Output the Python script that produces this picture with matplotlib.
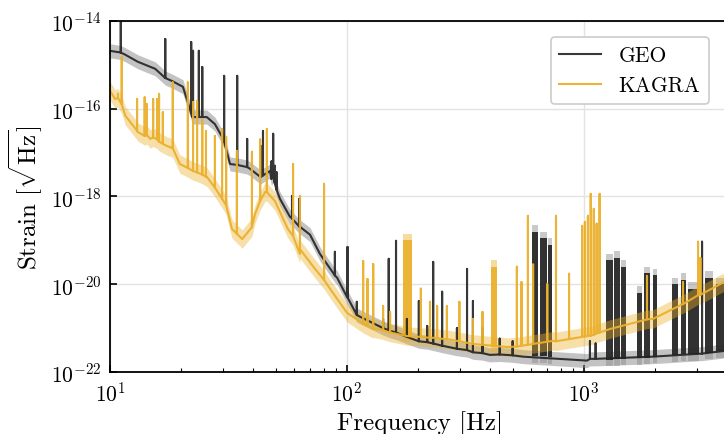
import numpy as np
import matplotlib
matplotlib.use("Agg")
import matplotlib.pyplot as plt
from matplotlib.ticker import NullLocator

# ---- data (frequency in Hz, log10 strain) ----
geo_freq = [10, 11.6, 13.1, 15.5, 18.3, 20.3, 22.2, 25.6, 27.7, 29.7, 32.1, 39.0,
            43.0, 47.3, 52.1, 57.4, 63.3, 69.8, 76.9, 90.8, 100, 113.5, 151.7,
            209, 291, 401, 553, 1031, 1954, 3900]
geo_log = [-14.68, -14.77, -14.93, -15.09, -15.37, -15.50, -16.19, -16.19, -16.35,
           -16.64, -17.26, -17.37, -17.55, -17.42, -18.05, -18.46, -18.69, -18.87,
           -19.31, -19.85, -20.29, -20.74, -21.06, -21.31, -21.47, -21.61, -21.65,
           -21.74, -21.65, -21.52]

geo_spike_freq = [11.1, 17.1, 22.0, 22.4, 23.7, 24.5, 30.3, 34.4, 37.9, 43.4, 44.2,
                  48.0, 48.8, 49.6, 50.5, 58.6, 63.0, 88.9, 100.5, 110, 142, 150, 161,
                  179, 201, 218, 231, 252, 291, 321, 340, 373, 441, 500, 1060, 1120,
                  3150]
geo_spike_base = [-14.72, -15.30, -16.10, -16.19, -16.19, -16.19, -16.75, -17.28,
                  -17.33, -17.55, -17.52, -17.60, -17.50, -17.70, -17.85, -18.50,
                  -18.69, -19.80, -20.30, -20.70, -21.00, -21.05, -21.10, -21.20,
                  -21.30, -21.32, -21.35, -21.40, -21.47, -21.50, -21.55, -21.57,
                  -21.60, -21.62, -21.70, -21.70, -21.58]
geo_spike_top = [-14.02, -14.41, -14.48, -14.68, -14.68, -15.05, -15.25, -15.25,
                 -16.69, -16.85, -16.51, -17.20, -16.57, -17.30, -17.45, -17.99,
                 -18.05, -19.26, -19.15, -20.40, -20.79, -19.42, -19.01, -20.79,
                 -20.38, -20.95, -19.49, -20.17, -21.00, -19.65, -20.38, -21.00,
                 -21.24, -21.30, -21.30, -21.35, -19.03]

# dense clusters of lines that render as solid blocks
geo_block_lo = [606, 650, 705, 1240, 1340, 1430, 1680, 1800, 1950, 2350, 2560,
                2750, 3250, 3600]
geo_block_hi = [640, 700, 730, 1320, 1420, 1510, 1760, 1900, 2030, 2500, 2700,
                3050, 3500, 3900]
geo_block_base = [-21.64, -21.64, -21.66, -21.72, -21.71, -21.70, -21.68, -21.67,
                  -21.65, -21.62, -21.60, -21.59, -21.56, -21.53]
geo_block_top = [-18.80, -18.95, -19.10, -19.45, -19.40, -19.60, -20.20, -19.75,
                 -19.80, -20.00, -19.90, -20.10, -19.85, -20.00]

kagra_freq = [10, 10.5, 11.6, 13.1, 14.8, 17.4, 19.7, 22.4, 25.6, 29.7, 32.7, 36.1,
              40.9, 45.1, 49.6, 56.3, 63.3, 73.3, 84.7, 100, 128.8, 179, 247, 340,
              473, 609, 740, 1031, 1288, 1954, 2723, 3900]
kagra_log = [-15.59, -15.78, -16.16, -16.53, -16.69, -16.85, -17.26, -17.42, -17.55,
             -18.05, -18.74, -18.97, -18.40, -17.90, -18.10, -18.74, -19.31, -19.65,
             -20.10, -20.65, -21.02, -21.18, -21.24, -21.36, -21.43, -21.36, -21.29,
             -21.18, -21.02, -20.79, -20.40, -19.95]

kagra_spike_freq = [10.8, 11.2, 13.0, 14.0, 14.3, 15.2, 15.8, 16.1, 16.7, 18.4, 21.3,
                    22.4, 23.3, 24.5, 25.4, 27.7, 29.7, 30.9, 34.3, 39.7, 43.0, 45.9,
                    59.2, 63.3, 80, 117, 122, 129, 142, 152, 205, 224, 240, 264, 298,
                    340, 373, 521, 545, 580, 610, 700, 762, 865, 982, 1009, 1039, 1068,
                    1100, 1131, 1164, 1845, 2618, 3030, 3100]
kagra_spike_base = [-15.75, -15.90, -16.50, -16.62, -16.60, -16.65, -16.70, -16.75,
                    -16.80, -16.90, -17.35, -17.42, -17.45, -17.50, -17.55, -17.80,
                    -18.05, -18.20, -18.85, -18.70, -18.10, -17.90, -18.90, -19.20,
                    -19.90, -20.90, -20.95, -21.00, -21.05, -21.10, -21.20, -21.22,
                    -21.22, -21.25, -21.30, -21.36, -21.38, -21.42, -21.40, -21.38,
                    -21.36, -21.31, -21.30, -21.25, -21.20, -21.19, -21.18, -21.17,
                    -21.15, -21.12, -21.10, -20.80, -20.45, -20.25, -20.24]
kagra_spike_top = [-15.66, -14.82, -15.78, -15.74, -15.89, -15.78, -15.78, -15.66,
                   -16.08, -15.40, -15.40, -15.85, -15.82, -16.25, -16.51, -16.62,
                   -16.46, -16.64, -16.96, -16.98, -16.70, -16.46, -17.26, -17.99,
                   -17.71, -19.47, -19.88, -19.54, -20.50, -20.63, -20.10, -20.40,
                   -20.50, -20.50, -20.40, -20.79, -20.63, -19.60, -19.95, -18.44,
                   -19.55, -20.00, -18.44, -19.76, -18.67, -18.58, -18.44, -17.94,
                   -18.28, -18.62, -17.94, -19.81, -19.95, -19.03, -19.40]

kagra_block_lo = [172, 405]
kagra_block_hi = [188, 430]
kagra_block_base = [-21.16, -21.40]
kagra_block_top = [-19.00, -19.60]


def build(freq, logv, s_f, s_base, s_top):
    # merge smooth floor and narrow lines into one trace
    pts = [(f, 0, v) for f, v in zip(freq, logv)]
    for f, lo, hi in zip(s_f, s_base, s_top):
        pts += [(f, 0, lo), (f, 1, hi), (f, 2, lo)]
    pts.sort(key=lambda p: (p[0], p[1]))
    f = np.array([p[0] for p in pts])
    v = np.array([p[2] for p in pts])
    return f, v


def draw_blocks(ax, lo, hi, base, top, col, band_col, pad):
    for a, b, y0, y1 in zip(lo, hi, base, top):
        ax.fill_between([a, b], 10 ** (y0 - pad), 10 ** (y1 + pad),
                        color=band_col, alpha=0.45, lw=0)
        ax.fill_between([a, b], 10 ** y0, 10 ** y1, color=col, alpha=0.9, lw=0)


geo_f, geo_v = build(geo_freq, geo_log, geo_spike_freq, geo_spike_base, geo_spike_top)
kag_f, kag_v = build(kagra_freq, kagra_log, kagra_spike_freq, kagra_spike_base,
                     kagra_spike_top)

plt.rcParams['font.family'] = 'serif'
plt.rcParams['font.serif'] = ['cmr10']
plt.rcParams['mathtext.fontset'] = 'cm'
plt.rcParams['axes.formatter.use_mathtext'] = True
plt.rcParams['axes.unicode_minus'] = False

fig = plt.figure(figsize=(7.24, 4.35), dpi=100)
ax = fig.add_axes([0.152, 0.1425, 0.855, 0.807])

geo_col = '#222222'
kag_col = '#ebb02c'

# spread bands + median traces
ax.fill_between(geo_f, 10 ** (geo_v - 0.16), 10 ** (geo_v + 0.16),
                color='#888888', alpha=0.5, lw=0)
draw_blocks(ax, geo_block_lo, geo_block_hi, geo_block_base, geo_block_top,
            geo_col, '#888888', 0.15)
ax.plot(geo_f, 10 ** geo_v, color=geo_col, lw=1.5, alpha=0.9, label='GEO')

ax.fill_between(kag_f, 10 ** (kag_v - 0.21), 10 ** (kag_v + 0.21),
                color=kag_col, alpha=0.4, lw=0)
draw_blocks(ax, kagra_block_lo, kagra_block_hi, kagra_block_base, kagra_block_top,
            kag_col, kag_col, 0.15)
ax.plot(kag_f, 10 ** kag_v, color=kag_col, lw=1.5, alpha=0.95, label='KAGRA')

ax.set_xscale('log')
ax.set_yscale('log')
ax.set_xlim(10, 4096)
ax.set_ylim(1e-22, 1e-14)
ax.set_yticks([1e-22, 1e-20, 1e-18, 1e-16, 1e-14])
ax.yaxis.set_minor_locator(NullLocator())

ax.tick_params(which='both', direction='in', labelsize=15.5, pad=6)
ax.tick_params(which='major', length=5, width=1.2)
ax.tick_params(which='minor', length=3, width=0.8)
for s in ax.spines.values():
    s.set_linewidth(1.3)

ax.grid(True, which='major', color='#e3e3e3', lw=1)
ax.set_axisbelow(True)

ax.set_xlabel('Frequency [Hz]', fontsize=18, labelpad=4)
ax.set_ylabel(r'Strain [$\sqrt{\mathrm{Hz}}$]', fontsize=18, labelpad=4)

leg = ax.legend(loc='upper right', fontsize=15.5, fancybox=True, framealpha=1,
                edgecolor='#cccccc', bbox_to_anchor=(0.985, 0.985), handlelength=1.95)
leg.get_frame().set_linewidth(1.2)

fig.savefig('out.png', dpi=100)
